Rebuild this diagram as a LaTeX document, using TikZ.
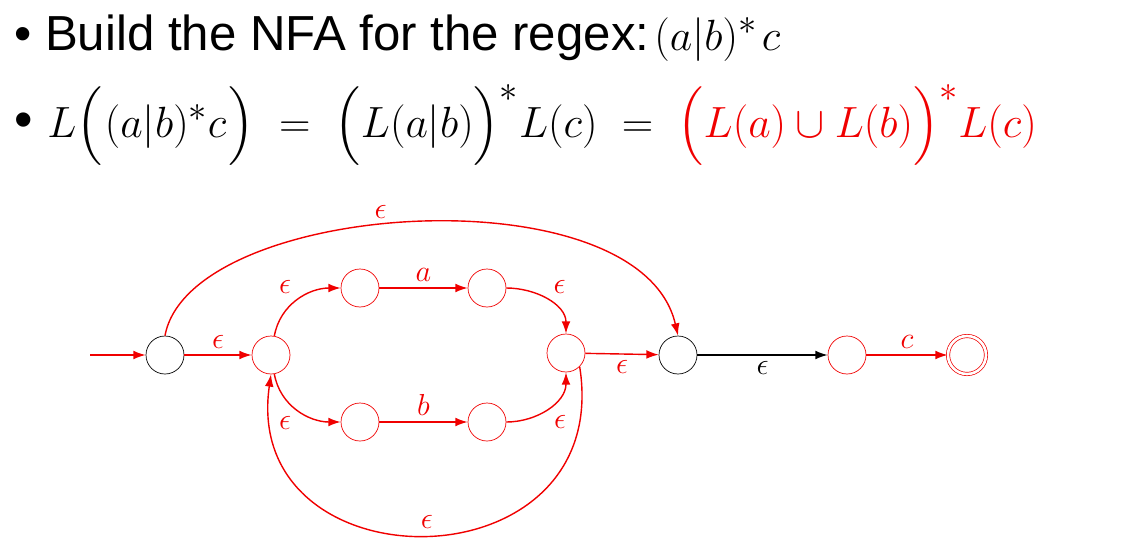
\documentclass[tikz,border=0pt]{standalone}
\usepackage{amsmath}
\usepackage{fontspec}
\setmainfont{Liberation Sans}
\usetikzlibrary{arrows.meta}
\definecolor{rd}{RGB}{240,0,0}
\begin{document}
\begin{tikzpicture}[x=0.02cm,y=-0.02cm,
 st/.style={circle,draw=rd,minimum size=0.76cm,inner sep=0pt},
 bst/.style={circle,draw=black,minimum size=0.76cm,inner sep=0pt},
 ed/.style={draw=rd,-{Latex[length=7pt,width=5pt]},thick},
 lb/.style={text=rd,font=\LARGE}]
\useasboundingbox (0,0) rectangle (1139,555);
\node[anchor=west,font=\fontsize{28}{32}\selectfont] (t1) at (8,38) {\textbullet\ Build the NFA for the regex:$\mkern2mu(a|b)^{*}\mkern2mu c$};
\node[anchor=west,font=\fontsize{30}{34}\selectfont] (t2) at (8,125) {\textbullet\ $L\Big(\mkern1mu(a|b)^{*}c\mkern1mu\Big)\;=\;\Big(L(a|b)\Big)^{*}L(c)\;=\;\textcolor{rd}{\Big(L(a)\cup L(b)\Big)^{*}L(c)}$};
\node[bst] (s0) at (165,355) {};
\node[st] (s1) at (271,355) {};
\node[st] (s2) at (360,288) {};
\node[st] (s3) at (487,288) {};
\node[st] (s4) at (360,422) {};
\node[st] (s5) at (487,422) {};
\node[st] (s6) at (566,353) {};
\node[bst] (s7) at (678,355) {};
\node[st] (s8) at (847,355) {};
\node[st,double,double distance=1.5pt] (s9) at (967,355) {};
\coordinate (in) at (90,355);
\draw[ed] (in) -- (s0);
\draw[ed] (s0) -- node[lb,above] {$\epsilon$} (s1);
\draw[ed] (s1) to[out=80,in=180] node[lb,above left] {$\epsilon$} (s2);
\draw[ed] (s2) -- node[lb,above] {$a$} (s3);
\draw[ed] (s3) to[out=0,in=90] node[lb,above right] {$\epsilon$} (s6);
\draw[ed] (s1) to[out=-80,in=180] node[lb,below left] {$\epsilon$} (s4);
\draw[ed] (s4) -- node[lb,above] {$b$} (s5);
\draw[ed] (s5) to[out=0,in=-90] node[lb,below right] {$\epsilon$} (s6);
\draw[ed] (s6) -- node[lb,below] {$\epsilon$} (s7);
\draw[thick,-{Latex[length=7pt,width=5pt]}] (s7) -- node[font=\LARGE,below] {$\epsilon$} (s8);
\draw[ed] (s8) -- node[lb,above] {$c$} (s9);
\draw[ed] (s0.north) .. controls (190,200) and (640,170) .. node[lb,above,pos=0.45] {$\epsilon$} (s7.north);
\draw[ed] (s6.south east) .. controls (615,590) and (240,590) .. node[lb,above,pos=0.5] {$\epsilon$} (s1.south);
\end{tikzpicture}
\end{document}
